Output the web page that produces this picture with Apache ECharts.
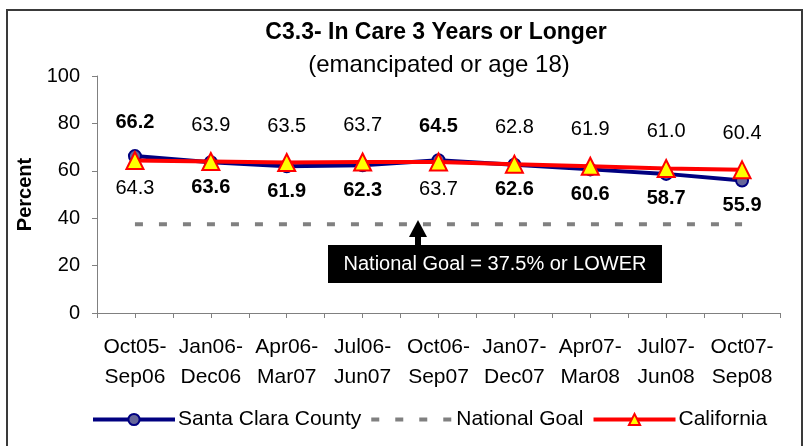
<!DOCTYPE html>
<html>
<head>
<meta charset="utf-8">
<script src="https://cdn.jsdelivr.net/npm/echarts@6/dist/echarts.min.js"></script>
<style>
    html, body { margin: 0; padding: 0; background: #fff; }
    #frame {
        position: absolute; left: 6px; top: 9px; width: 793px; height: 440px;
        border: 2px solid #3a3a3a; border-bottom: none;
    }
    #chart { position: absolute; left: 0; top: 0; width: 806px; height: 446px; }
</style>
</head>
<body>
<div id="frame"></div>
<div id="chart"></div>
<script>
    // periods on the x axis
    const categories = ['Oct05-\nSep06', 'Jan06-\nDec06', 'Apr06-\nMar07', 'Jul06-\nJun07', 'Oct06-\nSep07',
                        'Jan07-\nDec07', 'Apr07-\nMar08', 'Jul07-\nJun08', 'Oct07-\nSep08'];
    const santaClara = [66.2, 63.6, 61.9, 62.3, 64.5, 62.6, 60.6, 58.7, 55.9];
    const california = [64.3, 63.9, 63.5, 63.7, 63.7, 62.8, 61.9, 61.0, 60.4];
    const nationalGoal = 37.5;
    const yTicks = [0, 20, 40, 60, 80, 100];

    const font = 'Liberation Sans, Arial, sans-serif';

    // label above the line that is higher at that point, below the other one
    function withLabels(values, other, bold) {
        return values.map((v, i) => {
            let above = bold ? v > other[i] : v >= other[i];
            return {
                value: v,
                label: {
                    position: above ? 'top' : 'bottom',
                    distance: above ? 17 : 8
                }
            };
        });
    }

    let chart = echarts.init(document.getElementById('chart'));

    let option = {
        animation: false,
        title: [
            {
                text: 'C3.3- In Care 3 Years or Longer',
                left: 431, top: 16, textAlign: 'center',
                textStyle: { fontFamily: font, fontSize: 23, fontWeight: 'bold', color: '#000' }
            },
            {
                text: '(emancipated or age 18)',
                left: 434, top: 48, textAlign: 'center',
                textStyle: { fontFamily: font, fontSize: 24, fontWeight: 'normal', color: '#000' }
            }
        ],
        grid: { left: 97, right: 26, top: 76, bottom: 133, containLabel: false },
        legend: {
            bottom: 11,
            left: 86,
            itemWidth: 82,
            itemHeight: 14,
            itemGap: 8,
            lineStyle: { width: 4 },
            textStyle: { fontFamily: font, fontSize: 21, color: '#000', padding: [0, 0, 0, -2] },
            data: [
                'Santa Clara County',
                { name: 'National Goal', itemStyle: { opacity: 0 } },
                'California'
            ]
        },
        xAxis: [
            {
                type: 'category',
                data: categories,
                boundaryGap: true,
                axisLine: { lineStyle: { color: '#808080', width: 1 } },
                axisTick: { show: false },
                axisLabel: {
                    fontFamily: font, fontSize: 21, color: '#000',
                    lineHeight: 30, margin: 19, interval: 0
                }
            },
            {
                // tick marks at every half category, like the original
                type: 'value',
                position: 'bottom',
                min: 0, max: categories.length * 2, interval: 1,
                axisLine: { show: true, lineStyle: { color: '#808080', width: 1 } },
                axisTick: { show: true, length: 5, lineStyle: { color: '#808080' } },
                axisLabel: { show: false },
                splitLine: { show: false }
            }
        ],
        yAxis: {
            type: 'value',
            min: yTicks[0], max: yTicks[yTicks.length - 1], interval: 20,
            name: 'Percent',
            nameLocation: 'middle',
            nameGap: 58,
            nameTextStyle: { fontFamily: font, fontSize: 20, fontWeight: 'bold', color: '#000' },
            axisLine: { show: true, lineStyle: { color: '#808080', width: 1 } },
            axisTick: { show: true, length: 5, lineStyle: { color: '#808080' } },
            axisLabel: { fontFamily: font, fontSize: 20, color: '#000', margin: 17 },
            splitLine: { show: false }
        },
        series: [
            {
                name: 'Santa Clara County',
                type: 'line',
                data: withLabels(santaClara, california, true),
                symbol: 'circle',
                symbolSize: 12,
                lineStyle: { color: '#000080', width: 4 },
                itemStyle: { color: '#666699', borderColor: '#000080', borderWidth: 2 },
                label: {
                    show: true, fontFamily: font, fontSize: 20, fontWeight: 'bold', color: '#000',
                    formatter: (p) => p.value.toFixed(1)
                },
                z: 3
            },
            {
                name: 'National Goal',
                type: 'line',
                data: categories.map(() => nationalGoal),
                symbol: 'none',
                lineStyle: { color: '#808080', width: 4, type: [8, 16] },
                itemStyle: { color: '#808080' },
                z: 2
            },
            {
                name: 'California',
                type: 'line',
                data: withLabels(california, santaClara, false),
                symbol: 'triangle',
                symbolSize: 17,
                lineStyle: { color: '#FF0000', width: 4 },
                itemStyle: { color: '#FFFF00', borderColor: '#FF0000', borderWidth: 2 },
                label: {
                    show: true, fontFamily: font, fontSize: 20, color: '#000',
                    formatter: (p) => p.value.toFixed(1)
                },
                z: 4
            }
        ],
        graphic: [
            {
                type: 'polygon',
                shape: { points: [[418, 220], [409, 237], [427, 237]] },
                style: { fill: '#000' }
            },
            {
                type: 'rect',
                shape: { x: 415, y: 236, width: 6, height: 10 },
                style: { fill: '#000' }
            },
            {
                type: 'rect',
                shape: { x: 328, y: 245, width: 334, height: 38 },
                style: { fill: '#000' }
            },
            {
                type: 'text',
                x: 495, y: 264,
                style: {
                    text: 'National Goal = 37.5% or LOWER',
                    fill: '#fff', font: '20px ' + font,
                    align: 'center', verticalAlign: 'middle'
                }
            }
        ]
    };

    chart.setOption(option);
</script>
</body>
</html>
